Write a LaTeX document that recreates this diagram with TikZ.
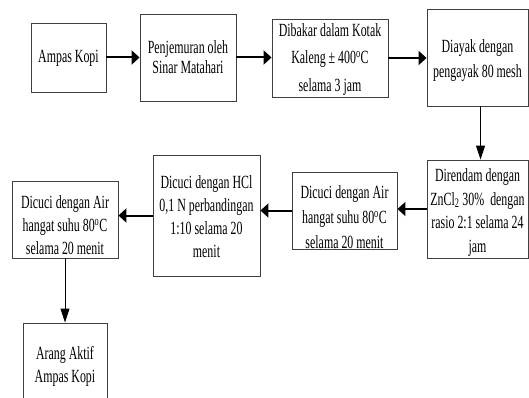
\documentclass[tikz,border=0pt]{standalone}
\usepackage{fontspec}
\setmainfont{Liberation Serif}[FakeStretch=0.64]
\usetikzlibrary{arrows.meta}
\newcommand\myfs[1]{\fontsize{18.6}{#1}\selectfont}
\tikzset{
  box/.style={draw=black!75, line width=0.9pt, inner sep=0pt, fill=white},
  txt/.style={align=center, inner sep=0pt, text=black},
  harrow/.style={line width=2pt, -{Triangle[length=8pt,width=14pt]}},
  varrow/.style={line width=1pt, -{Triangle[length=14pt,width=9pt]}},
}
\begin{document}
\begin{tikzpicture}[x=1pt,y=-1pt]
\useasboundingbox (0,0) rectangle (529,398);
\clip (0,0) rectangle (529,398);
% boxes
\node[box, minimum width=75pt, minimum height=69pt] (ampas) at (68.5,57.5) {};
\node[box, minimum width=96pt, minimum height=87pt] (jemur) at (188,57.5) {};
\node[box, minimum width=116pt, minimum height=78pt] (bakar) at (330,58) {};
\node[box, minimum width=101pt, minimum height=97pt] (ayak) at (477.5,57.5) {};
\node[box, minimum width=101pt, minimum height=98pt] (rendam) at (477.5,209) {};
\node[box, minimum width=105pt, minimum height=77pt] (cuci1) at (344.5,210.5) {};
\node[box, minimum width=107pt, minimum height=121pt] (hcl) at (206.5,215.5) {};
\node[box, minimum width=106pt, minimum height=77pt] (cuci2) at (65,219.5) {};
\node[box, minimum width=84pt, minimum height=97pt] (arang) at (65,371.5) {};
% texts
\node[txt, font=\myfs{20}] (tampas) at (68.5,58) {Ampas Kopi};
\node[txt, font=\myfs{20}] (tjemur) at (188,57) {Penjemuran oleh\\Sinar Matahari};
\node[txt, font=\myfs{27.5}] (tbakar) at (330,59.5) {Dibakar dalam Kotak\\Kaleng ± 400\textsuperscript{o}C\\selama 3 jam};
\node[txt, font=\myfs{25}] (tayak) at (477.5,60.5) {Diayak dengan\\pengayak 80 mesh};
\node[txt, font=\myfs{23.7}] (trendam) at (477.5,212.5) {Direndam dengan\\ZnCl\textsubscript{2} 30\%\ \ dengan\\rasio 2:1 selama 24\\jam};
\node[txt, font=\myfs{25}] (tcuci1) at (344.5,217) {Dicuci dengan Air\\hangat suhu 80\textsuperscript{o}C\\selama 20 menit};
\node[txt, font=\myfs{23}] (thcl) at (206.5,217) {Dicuci dengan HCl\\0,1 N perbandingan\\1:10 selama 20\\menit};
\node[txt, font=\myfs{23}] (tcuci2) at (65,225) {Dicuci dengan Air\\hangat suhu 80\textsuperscript{o}C\\selama 20 menit};
\node[txt, font=\myfs{23}] (tarang) at (65,366.5) {Arang Aktif\\Ampas Kopi};
% connectors
\draw[harrow] (ampas.east) -- (jemur.west |- ampas.east);
\draw[harrow] (jemur.east) -- (bakar.west |- jemur.east);
\draw[harrow] (bakar.east) -- (ayak.west |- bakar.east);
\draw[varrow] ([xshift=3pt]ayak.south) -- ([xshift=3pt]rendam.north);
\draw[harrow] (rendam.west) -- (cuci1.east |- rendam.west);
\draw[harrow] (cuci1.west) -- (hcl.east |- cuci1.west);
\draw[harrow] (hcl.west) -- (cuci2.east |- hcl.west);
\draw[varrow] (cuci2.south) -- (arang.north);
\end{tikzpicture}
\end{document}
